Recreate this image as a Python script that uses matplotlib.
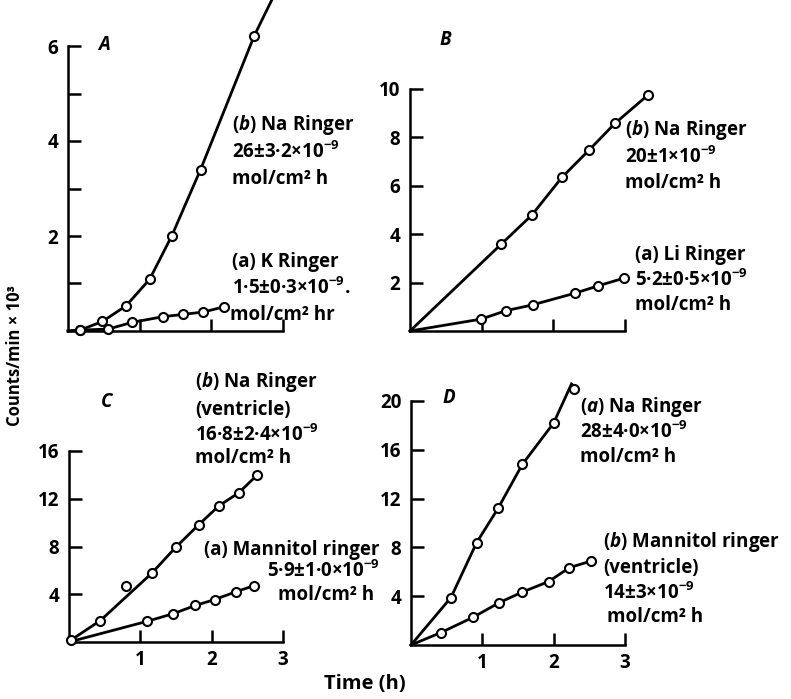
import numpy as np
import matplotlib
matplotlib.use('Agg')
import matplotlib.pyplot as plt

# ---- data (time in h, counts/min x 10^3) ----
# A
a_na_t = [0.17, 0.48, 0.81, 1.14, 1.45, 1.85, 2.60]
a_na_y = [0.02, 0.20, 0.53, 1.09, 2.01, 3.40, 6.22]
a_k_t = [0.17, 0.56, 0.89, 1.32, 1.61, 1.89, 2.18]
a_k_y = [0.02, 0.04, 0.18, 0.30, 0.35, 0.40, 0.51]
# B
b_na_t = [1.27, 1.70, 2.12, 2.50, 2.86, 3.32]
b_na_y = [3.58, 4.79, 6.35, 7.48, 8.58, 9.75]
b_li_t = [0.99, 1.34, 1.71, 2.30, 2.63, 2.98]
b_li_y = [0.49, 0.84, 1.08, 1.56, 1.87, 2.18]
# C
c_na_t = [0.03, 0.44, 0.80, 1.16, 1.50, 1.82, 2.10, 2.38, 2.64]
c_na_y = [0.17, 1.80, 4.65, 5.76, 7.96, 9.83, 11.4, 12.5, 14.0]
c_man_t = [1.10, 1.46, 1.77, 2.04, 2.34, 2.59]
c_man_y = [1.74, 2.37, 3.06, 3.55, 4.21, 4.71]
# D
d_na_t = [0.56, 0.92, 1.22, 1.56, 2.00, 2.28]
d_na_y = [3.89, 8.39, 11.2, 14.8, 18.2, 21.0]
d_man_t = [0.42, 0.87, 1.24, 1.56, 1.93, 2.22, 2.53]
d_man_y = [1.02, 2.27, 3.48, 4.34, 5.20, 6.34, 6.89]

# drawn lines run from the origin through the points; A Na carries on past
# its last point, the C Na point at 0.8 h lies off its line, D Na ends a
# little past its last point
a_na_tail_t, a_na_tail_y = [2.87], [7.05]
c_na_skip = 2
d_na_tail_t, d_na_tail_y = [2.25], [21.4]

x_ticks = [1, 2, 3]
a_yticks = [2, 4, 6]
a_yminor = [1, 3, 5]
b_yticks = [2, 4, 6, 8, 10]
c_yticks = [4, 8, 12, 16]
d_yticks = [4, 8, 12, 16, 20]

FONT = 'Open Sans'
plt.rcParams['font.family'] = [FONT, 'DejaVu Sans']
plt.rcParams['font.weight'] = 'bold'
plt.rcParams['mathtext.fontset'] = 'custom'
plt.rcParams['mathtext.rm'] = FONT + ':bold'
plt.rcParams['mathtext.it'] = FONT + ':italic:bold'
plt.rcParams['mathtext.bf'] = FONT + ':bold'

W, H = 791, 699
fig = plt.figure(figsize=(W / 100, H / 100), dpi=100)
FS = 13.5


def px_axes(left, right, top, bottom):
    return fig.add_axes([left / W, 1 - bottom / H, (right - left) / W, (bottom - top) / H])


def px_text(x, y, s, **kw):
    kw.setdefault('fontsize', FS)
    kw.setdefault('va', 'center')
    fig.text(x / W, 1 - y / H, s, **kw)


def style(ax, ymax, yticks, xlabels):
    ax.set_xlim(0, 3)
    ax.set_ylim(0, ymax)
    ax.spines['top'].set_visible(False)
    ax.spines['right'].set_visible(False)
    for s in ('left', 'bottom'):
        ax.spines[s].set_linewidth(1.8)
    ax.set_xticks(x_ticks)
    ax.set_yticks(yticks)
    ax.tick_params(direction='in', length=9, width=1.8, labelsize=FS)
    ax.tick_params(axis='y', pad=7)
    ax.tick_params(axis='x', pad=6, labelbottom=xlabels)
    ax.patch.set_alpha(0)


def series(ax, t, y, lt=None, ly=None):
    if lt is None:
        lt, ly = t, y
    ax.plot([0] + list(lt), [0] + list(ly), color='black', lw=2.0,
            clip_on=False, zorder=2)
    ax.plot(t, y, 'o', ms=6.5, mfc='white', mec='black', mew=1.5,
            clip_on=False, zorder=3)


ax_a = px_axes(68, 283, 46, 331)
style(ax_a, 6, a_yticks, False)
ax_a.set_yticks(a_yminor, minor=True)
ax_a.tick_params(which='minor', direction='in', length=9, width=1.8)
series(ax_a, a_na_t, a_na_y, a_na_t + a_na_tail_t, a_na_y + a_na_tail_y)
series(ax_a, a_k_t, a_k_y)

ax_b = px_axes(410, 625, 89, 331)
style(ax_b, 10, b_yticks, False)
series(ax_b, b_na_t, b_na_y)
series(ax_b, b_li_t, b_li_y)

ax_c = px_axes(69, 283, 451, 642)
style(ax_c, 16, c_yticks, True)
series(ax_c, c_na_t, c_na_y,
       c_na_t[:c_na_skip] + c_na_t[c_na_skip + 1:],
       c_na_y[:c_na_skip] + c_na_y[c_na_skip + 1:])
series(ax_c, c_man_t, c_man_y)

ax_d = px_axes(411, 625, 401, 645)
style(ax_d, 20, d_yticks, True)
series(ax_d, d_na_t, d_na_y, d_na_t[:-1] + d_na_tail_t, d_na_y[:-1] + d_na_tail_y)
series(ax_d, d_man_t, d_man_y)

# panel letters
px_text(98, 45, 'A', style='italic')
px_text(440, 40, 'B', style='italic')
px_text(101, 402, 'C', style='italic')
px_text(443, 398, 'D', style='italic')

# annotations
px_text(232, 125, r'($\it{b}$) Na Ringer')
px_text(232, 152, r'26±3·2×10$^{-9}$')
px_text(232, 179, 'mol/cm² h')
px_text(232, 262, '(a) K Ringer')
px_text(232, 288, r'1·5±0·3×10$^{-9}$.')
px_text(230, 315, 'mol/cm² hr')

px_text(625, 130, r'($\it{b}$) Na Ringer')
px_text(625, 157, r'20±1×10$^{-9}$')
px_text(625, 183, 'mol/cm² h')
px_text(635, 255, '(a) Li Ringer')
px_text(635, 280, r'5·2±0·5×10$^{-9}$')
px_text(635, 305, 'mol/cm² h')

px_text(195, 382, r'($\it{b}$) Na Ringer')
px_text(195, 410, '(ventricle)')
px_text(195, 435, r'16·8±2·4×10$^{-9}$')
px_text(195, 458, 'mol/cm² h')
px_text(380, 550, '(a) Mannitol ringer', ha='right')
px_text(380, 571, r'5·9±1·0×10$^{-9}$', ha='right')
px_text(374, 595, 'mol/cm² h', ha='right')

px_text(580, 407, r'($\it{a}$) Na Ringer')
px_text(580, 432, r'28±4·0×10$^{-9}$')
px_text(580, 457, 'mol/cm² h')
px_text(603, 542, r'($\it{b}$) Mannitol ringer')
px_text(603, 568, '(ventricle)')
px_text(603, 593, r'14±3×10$^{-9}$')
px_text(607, 617, 'mol/cm² h')

# shared axis titles
px_text(15, 356, 'Counts/min × 10³', rotation=90, ha='center', fontsize=12)
px_text(365, 684, 'Time (h)', ha='center', fontsize=14.5)

fig.savefig('out.png', dpi=100)
